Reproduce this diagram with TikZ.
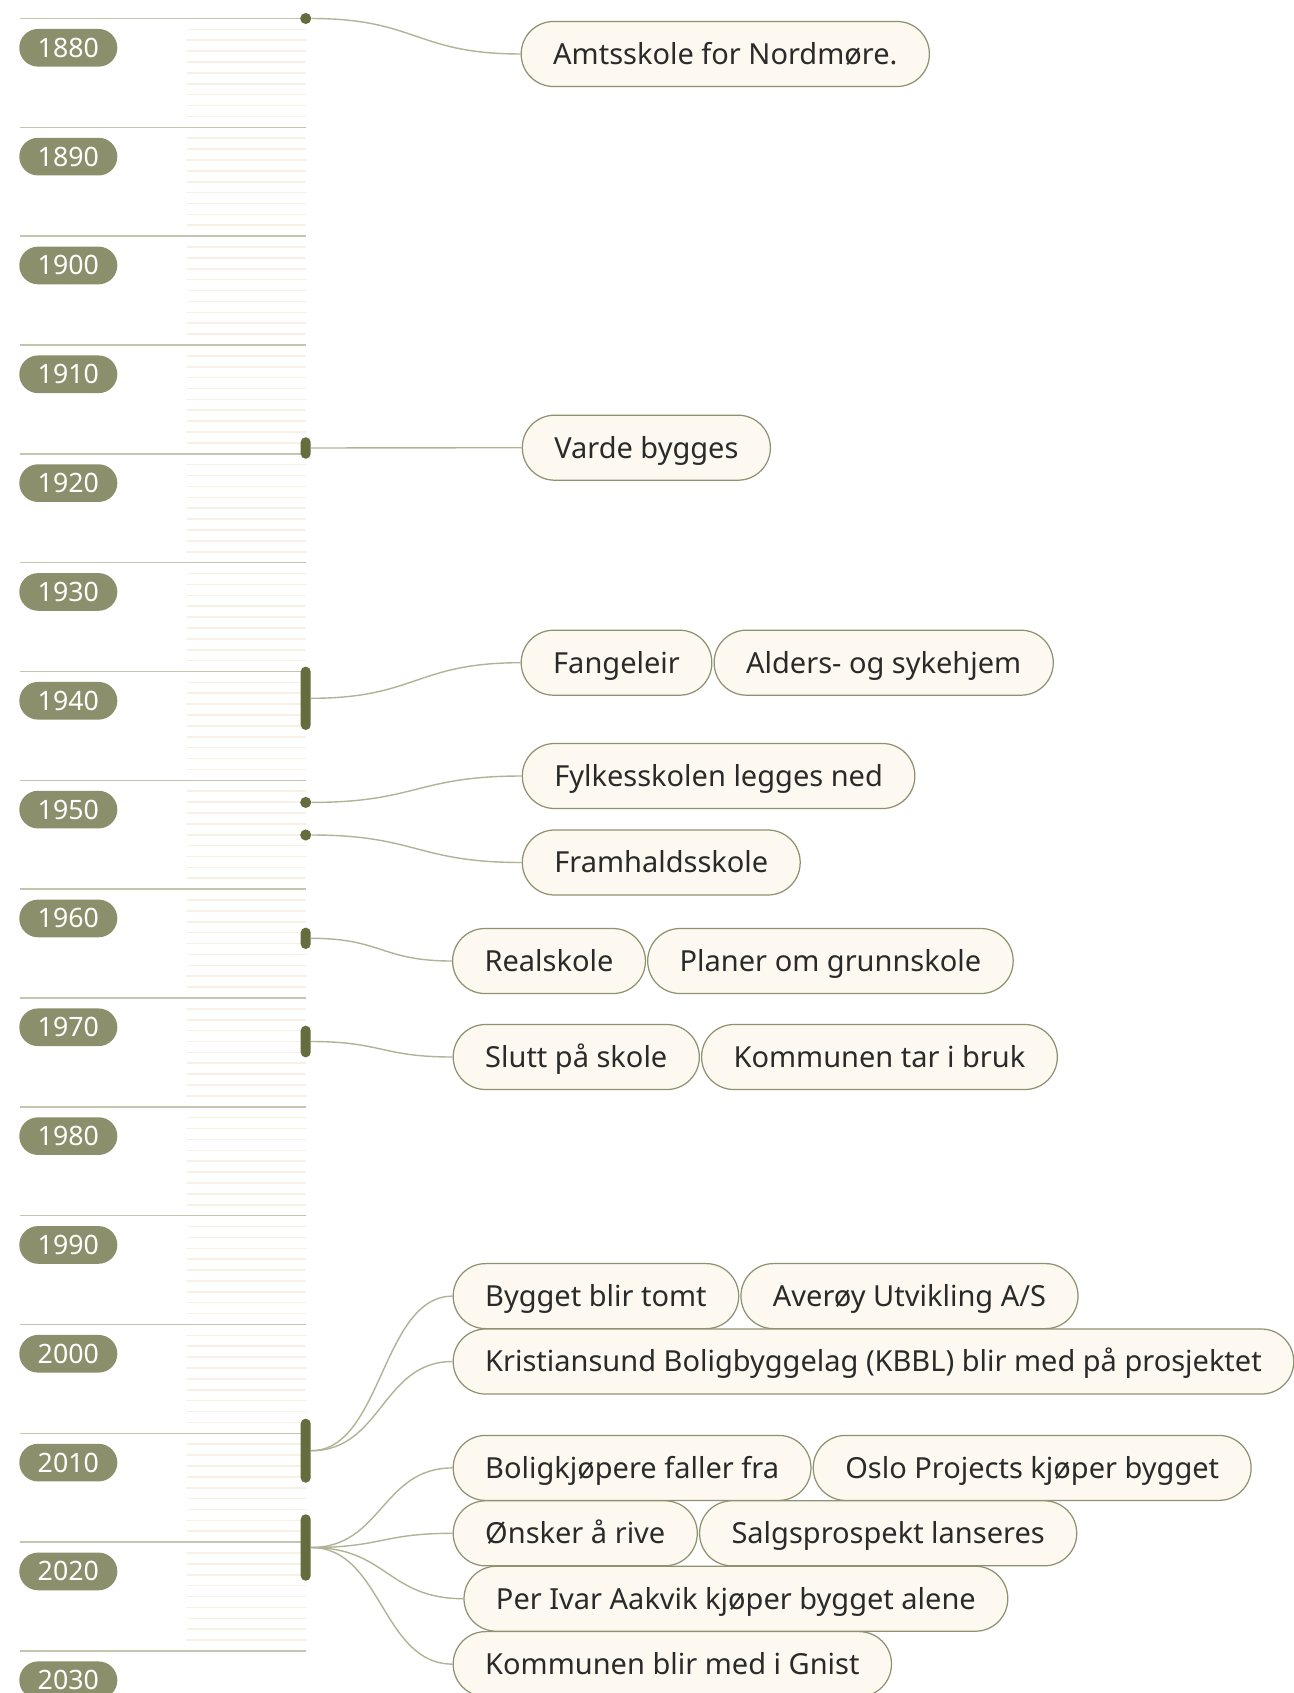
\documentclass[tikz,border=0pt]{standalone}
\usepackage{fontspec}
\setmainfont{Noto Sans}
\usetikzlibrary{positioning}
\definecolor{olive}{HTML}{656D3E}
\definecolor{yearfill}{HTML}{8C8F6B}
\definecolor{pillfill}{HTML}{FDF9F0}
\definecolor{pillline}{HTML}{8F9170}
\definecolor{linkline}{HTML}{B1B397}
\definecolor{decline}{HTML}{C3C5AE}
\definecolor{yearline}{HTML}{F6F1E4}
\definecolor{ink}{HTML}{2A2A2A}
\begin{document}
\begin{tikzpicture}[x=0.02cm,y=-0.02cm]
\tikzstyle{every node}+=[inner sep=0pt]
\tikzstyle{year}=[fill=yearfill, text=white, rounded corners=10.7pt, minimum width=55.8pt, minimum height=21.45pt, font=\fontsize{15.2pt}{18pt}\selectfont, text height=10.85pt, text depth=0pt]
\tikzstyle{pill}=[draw=pillline, line width=0.7pt, fill=pillfill, text=ink, rounded corners=18.4pt, minimum height=37pt, inner xsep=18.2pt, font=\fontsize{16.5pt}{20pt}\selectfont, text height=11.8pt, text depth=0pt, anchor=west]
\tikzstyle{span}=[fill=olive, minimum width=5.7pt, rounded corners=2.8pt]
\tikzstyle{dot}=[fill=olive, circle, minimum size=6.3pt]
\tikzstyle{link}=[draw=linkline, line width=0.8pt]
\fill [white] (0,0) rectangle (1294,1693);
\useasboundingbox (0,0) rectangle (1294,1693);
% year ticks and decades
\foreach \t in {1,...,149}
  \draw [yearline, line width=0.9pt] (186.7,18.5+\t*10.883) -- (305.7,18.5+\t*10.883);
\foreach \d in {0,...,15}{
  \draw [decline, line width=0.9pt] (20,18.5+\d*108.83) -- (305.7,18.5+\d*108.83);
  \pgfmathtruncatemacro\yr{1880+10*\d}
  \node [year] (y\yr) at (68.3,47.8+\d*108.83) {\yr};
}
% markers
\node [dot] (m1880) at (305.7,18.5) {};
\node [span, minimum height=12.2pt] (m1919) at (305.7,448) {};
\node [span, minimum height=36pt] (m1940) at (305.7,698.3) {};
\node [dot] (m1952) at (305.7,802.4) {};
\node [dot] (m1955) at (305.7,835) {};
\node [span, minimum height=12.1pt] (m1964) at (305.7,938.3) {};
\node [span, minimum height=18pt] (m1973) at (305.7,1041.5) {};
\node [span, minimum height=36.4pt] (m2009) at (305.7,1450.7) {};
\node [span, minimum height=37.8pt] (m2018) at (305.7,1547.5) {};
% events
\node [pill] (p1880) at (520.6,54) {Amtsskole for Nordmøre.};
\node [pill] (p1919) at (521.7,447.7) {Varde bygges};
\node [pill] (p1940) at (520.6,662.7) {Fangeleir};
\node [pill, right=0.6pt of p1940] (p1940b) {Alders- og sykehjem};
\node [pill] (p1952) at (521.7,776) {Fylkesskolen legges ned};
\node [pill] (p1955) at (521.7,862.5) {Framhaldsskole};
\node [pill] (p1964) at (452,961) {Realskole};
\node [pill, right=0.6pt of p1964] (p1964b) {Planer om grunnskole};
\node [pill] (p1973) at (452.6,1057) {Slutt på skole};
\node [pill, right=0.6pt of p1973] (p1973b) {Kommunen tar i bruk};
\node [pill] (p2009) at (452.6,1296.1) {Bygget blir tomt};
\node [pill, right=0.6pt of p2009] (p2009b) {Averøy Utvikling A/S};
\node [pill] (p2009c) at (452.6,1361.5) {Kristiansund Boligbyggelag (KBBL) blir med på prosjektet};
\node [pill] (p2018) at (452.6,1467.9) {Boligkjøpere faller fra};
\node [pill, right=0.6pt of p2018] (p2018b) {Oslo Projects kjøper bygget};
\node [pill] (p2018c) at (452.6,1533.3) {Ønsker å rive};
\node [pill, right=0.6pt of p2018c] (p2018d) {Salgsprospekt lanseres};
\node [pill] (p2018e) at (463.4,1598.7) {Per Ivar Aakvik kjøper bygget alene};
\node [pill] (p2018f) at (452.6,1664.1) {Kommunen blir med i Gnist};
% links
\draw [link] (m1880.east) .. controls +(105,0) and +(-105,0) .. (p1880.west);
\draw [link] (m1919.east) -- (p1919.west);
\draw [link] (m1940.east) .. controls +(105,0) and +(-105,0) .. (p1940.west);
\draw [link] (m1952.east) .. controls +(105,0) and +(-105,0) .. (p1952.west);
\draw [link] (m1955.east) .. controls +(105,0) and +(-105,0) .. (p1955.west);
\draw [link] (m1964.east) .. controls +(71,0) and +(-71,0) .. (p1964.west);
\draw [link] (m1973.east) .. controls +(71,0) and +(-71,0) .. (p1973.west);
\draw [link] (m2009.east) .. controls +(71,0) and +(-71,0) .. (p2009.west);
\draw [link] (m2009.east) .. controls +(71,0) and +(-71,0) .. (p2009c.west);
\draw [link] (m2018.east) .. controls +(71,0) and +(-71,0) .. (p2018.west);
\draw [link] (m2018.east) .. controls +(71,0) and +(-71,0) .. (p2018c.west);
\draw [link] (m2018.east) .. controls +(76,0) and +(-76,0) .. (p2018e.west);
\draw [link] (m2018.east) .. controls +(71,0) and +(-71,0) .. (p2018f.west);
\end{tikzpicture}
\end{document}
